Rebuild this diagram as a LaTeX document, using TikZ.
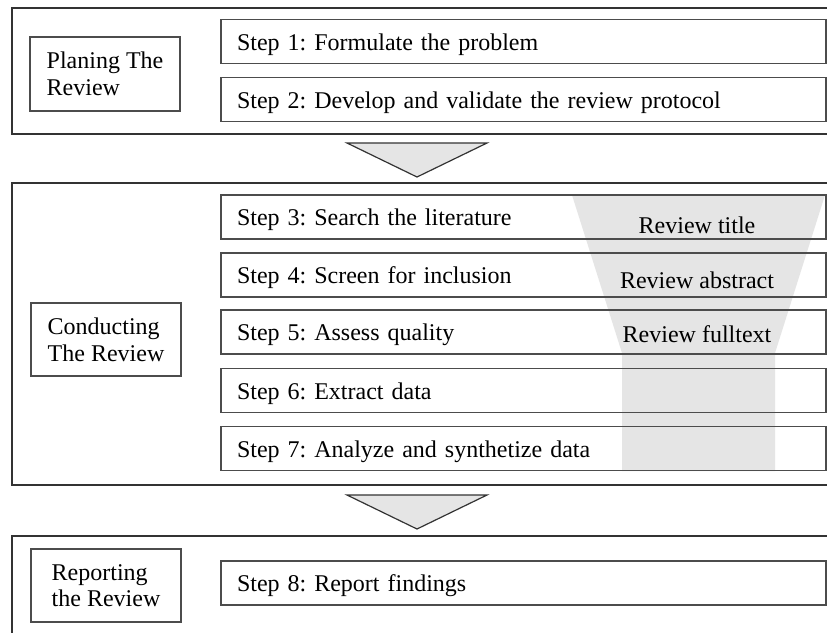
\documentclass[tikz,border=0pt]{standalone}
\usepackage{fontspec}
\setmainfont{Liberation Serif}
\frenchspacing
\begin{document}
\begin{tikzpicture}[x=0.75pt,y=-0.75pt,
  every node/.style={font=\fontsize{18pt}{20pt}\selectfont},
  phase/.style={draw=black!80,line width=1pt,fill=white},
  labelbox/.style={draw=black!70,line width=1.3pt,align=left,
    minimum width=112.5pt,minimum height=55pt,inner sep=0pt},
  stepbox/.style={draw=black!70,line width=1.3pt,align=left,
    minimum width=453.75pt,minimum height=33pt,text width=429.75pt,
    text height=15pt,text depth=2pt,
    inner xsep=12pt,inner ysep=0pt},
  filtertext/.style={inner sep=0pt},
  funnel/.style={fill=black!10,draw=none},
  flowarrow/.style={draw=black!80,line width=0.9pt,fill=black!10,line join=miter}]
\useasboundingbox (0,0) rectangle (827,632);
\clip (0,0) rectangle (827,632);

% the three phases
\draw[phase] (12,8) rectangle (850,134);
\draw[phase] (12,183) rectangle (850,485);
\draw[phase] (12,536) rectangle (850,660);

% screening funnel behind the conducting steps
\fill[funnel] (572,195) -- (825,195) -- (775,353) -- (775,471)
  -- (622,471) -- (622,353) -- cycle;

% transitions between phases
\draw[flowarrow] (347,143) -- (487,143) -- (417,177) -- cycle;
\draw[flowarrow] (347,495) -- (487,495) -- (417,529) -- cycle;

% phase labels
\node[labelbox] (plan) at (105,74) {Planing The\\Review};
\node[labelbox] (cond) at (106,339.5) {Conducting\\The Review};
\node[labelbox] (rep)  at (106,585.5) {Reporting\\the Review};

% steps
\node[stepbox] (s1) at (523.5,41.5) {Step 1: Formulate the problem};
\node[stepbox] (s2) at (523.5,99.5) {Step 2: Develop and validate the review protocol};
\node[stepbox] (s3) at (523.5,217) {Step 3: Search the literature};
\node[stepbox] (s4) at (523.5,275) {Step 4: Screen for inclusion};
\node[stepbox] (s5) at (523.5,332) {Step 5: Assess quality};
\node[stepbox] (s6) at (523.5,390.5) {Step 6: Extract data};
\node[stepbox] (s7) at (523.5,448.5) {Step 7: Analyze and synthetize data};
\node[stepbox] (s8) at (523.5,583) {Step 8: Report findings};

% screening levels
\node[filtertext] (f1) at (697,225) {Review title};
\node[filtertext] (f2) at (697,280) {Review abstract};
\node[filtertext] (f3) at (697,334) {Review fulltext};
\end{tikzpicture}
\end{document}
